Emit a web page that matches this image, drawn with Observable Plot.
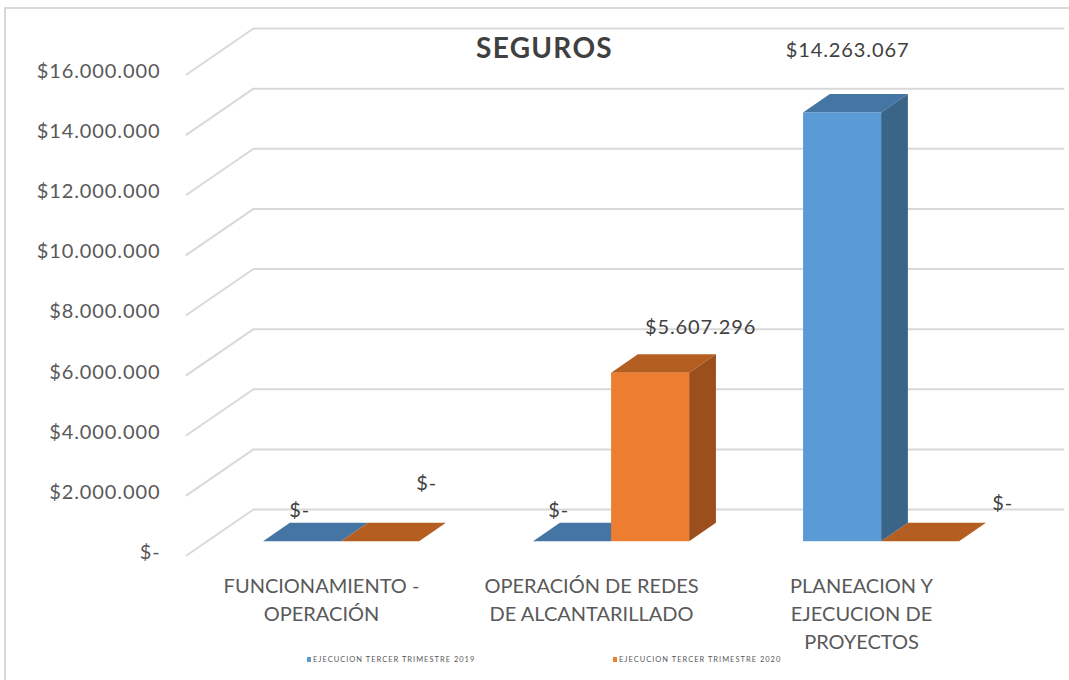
<!DOCTYPE html>
<html>
<head>
<meta charset="utf-8">
<script src="https://cdn.jsdelivr.net/npm/d3@7"></script>
<script src="https://cdn.jsdelivr.net/npm/@observablehq/plot@0.6"></script>
<style>
  html, body { margin: 0; padding: 0; background: #fff; width: 1069px; height: 680px; overflow: hidden; }
  #wrap { position: relative; width: 1069px; height: 680px; font-family: Lato, "Open Sans", sans-serif; }
  #frame { position: absolute; left: 4px; top: 7px; width: 1080px; height: 700px; border: 2px solid #d9d9d9; box-sizing: border-box; }
  #chart { position: absolute; left: 0; top: 0; }
  #title { position: absolute; left: 0; width: 1089px; top: 30px; text-align: center; font: bold 28px Lato, "Open Sans", sans-serif; color: #404040; letter-spacing: 1.3px; }
  .leg { position: absolute; top: 655px; font: 7.5px Lato, "Open Sans", sans-serif; color: #595959; white-space: nowrap; display: flex; align-items: center; letter-spacing: 1px; }
  .leg i { display: inline-block; width: 4px; height: 5px; margin-right: 2px; }
  .num text { letter-spacing: 0.9px; }
</style>
</head>
<body>
<div id="wrap">
  <div id="frame"></div>
  <div id="chart"></div>
  <div id="title"></div>
  <div id="legend"></div>
</div>
<script>
// ---- data ----
const title = "SEGUROS";
const categories = ["FUNCIONAMIENTO - OPERACIÓN", "OPERACIÓN DE REDES DE ALCANTARILLADO", "PLANEACION Y EJECUCION DE PROYECTOS"];
const categoryLines = [["FUNCIONAMIENTO -", "OPERACIÓN"], ["OPERACIÓN DE REDES", "DE ALCANTARILLADO"], ["PLANEACION Y", "EJECUCION DE", "PROYECTOS"]];
const seriesNames = ["EJECUCION TERCER TRIMESTRE 2019", "EJECUCION TERCER TRIMESTRE 2020"];
const values2019 = [0, 0, 14263067];
const values2020 = [0, 5607296, 0];
const yTicks = [0, 2000000, 4000000, 6000000, 8000000, 10000000, 12000000, 14000000, 16000000];

// ---- styles / geometry ----
const colFront = ["#5b9bd5", "#ed7d31"];
const colTop = ["#4575a3", "#b55e22"];
const colSide = ["#3a6589", "#9a4f1d"];
const labelNudge = [[[-3, -31], [46, -58]], [[-14, -31], [50, -46]], [[5, -62], [82, -38]]];
const xRange = [186, 996], yRange = [555, 74];
const pxPerCat = (xRange[1] - xRange[0]) / 3;
const pxPerVal = (yRange[0] - yRange[1]) / 16000000;
const depthPx = [67, 46];
const DX = depthPx[0] / pxPerCat;   // depth in category units
const DY = depthPx[1] / pxPerVal;   // depth in value units
const d0 = 0.3, d1 = 0.7, barW = 0.289;

const loc = d3.formatLocale({decimal: ",", thousands: ".", grouping: [3], currency: ["$", ""]});
const fmtNum = loc.format(",.0f");
const money = v => v === 0 ? "$-" : "$" + fmtNum(v);

// ---- build faces ----
const seriesVals = [values2019, values2020];
const bars = [];
categories.forEach((c, i) => {
  seriesVals.forEach((vals, s) => {
    const v = vals[i];
    const cx = i + 0.5 + d0 * DX;
    const x1 = cx + (s - 1) * barW, x2 = x1 + barW;
    const base = d0 * DY, top = base + v;
    bars.push({id: i + "-" + s, i, s, v, x1, x2, base, top});
  });
});
const ddx = (d1 - d0) * DX, ddy = (d1 - d0) * DY;
const topFaces = bars.flatMap(b => [
  {id: b.id, s: b.s, y: b.top, x1: b.x1, x2: b.x2},
  {id: b.id, s: b.s, y: b.top + ddy, x1: b.x1 + ddx, x2: b.x2 + ddx}
]);
const sideFaces = bars.filter(b => b.v > 0).flatMap(b => [
  {id: b.id, s: b.s, x: b.x2, y1: b.base, y2: b.top},
  {id: b.id, s: b.s, x: b.x2 + ddx, y1: b.base + ddy, y2: b.top + ddy}
]);
const frontFaces = bars.filter(b => b.v > 0);

const gridLines = yTicks.flatMap(t => [
  {t, x: 0, y: t},
  {t, x: DX, y: t + DY},
  {t, x: 3 + DX, y: t + DY}
]);

const labelMarks = bars.map(b => Plot.text([b], {
  x: d => (d.x1 + d.x2) / 2, y: d => d.top, text: d => money(d.v),
  dx: labelNudge[b.i][b.s][0], dy: labelNudge[b.i][b.s][1],
  fontSize: 20, fill: "#404040", textAnchor: "middle", className: "num"
}));

const catData = categories.map((c, i) => ({i, label: categoryLines[i].join("\n")}));

const chart = Plot.plot({
  width: 1069, height: 680,
  x: {type: "linear", domain: [0, 3], range: xRange, axis: null},
  y: {type: "linear", domain: [0, 16000000], range: yRange, axis: null},
  style: {fontFamily: "Lato, 'Open Sans', sans-serif", background: "transparent", overflow: "visible"},
  marks: [
    Plot.line(gridLines, {x: "x", y: "y", z: "t", stroke: "#d9d9d9", strokeWidth: 2}),
    Plot.text(yTicks, {x: 0, y: d => d, text: d => money(d), textAnchor: "end", dx: -26, dy: -3, fontSize: 20, fill: "#595959", className: "num"}),
    Plot.areaX(topFaces, {y: "y", x1: "x1", x2: "x2", z: "id", fill: d => colTop[d.s], curve: "linear"}),
    Plot.areaY(sideFaces, {x: "x", y1: "y1", y2: "y2", z: "id", fill: d => colSide[d.s], curve: "linear"}),
    Plot.rect(frontFaces, {x1: "x1", x2: "x2", y1: "base", y2: "top", fill: d => colFront[d.s]}),
    ...labelMarks,
    Plot.text(catData, {x: d => d.i + 0.5, y: 0, text: "label", lineAnchor: "top", dy: 18, lineHeight: 1.4, fontSize: 20, fill: "#595959", textAnchor: "middle"})
  ]
});
document.getElementById("chart").appendChild(chart);
document.getElementById("title").textContent = title;

const legend = document.getElementById("legend");
const legX = [307, 613];
seriesNames.forEach((n, s) => {
  const d = document.createElement("div");
  d.className = "leg";
  d.style.left = legX[s] + "px";
  d.innerHTML = `<i style="background:${colFront[s]}"></i><span></span>`;
  d.querySelector("span").textContent = n;
  legend.appendChild(d);
});
</script>
</body>
</html>
